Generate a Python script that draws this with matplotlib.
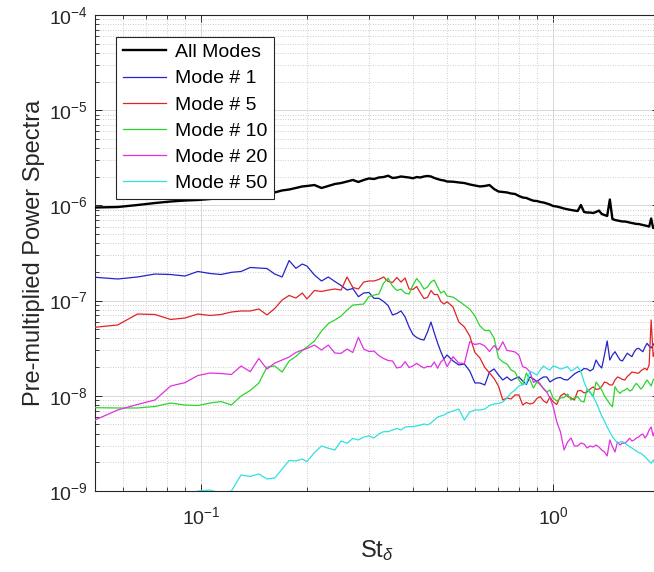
import numpy as np
import matplotlib
matplotlib.use("Agg")
import matplotlib.pyplot as plt
from matplotlib.ticker import LogLocator, NullFormatter, FixedLocator

# ---------------- data ----------------
# Strouhal number grid
st = [0.05, 0.058, 0.066, 0.074, 0.082, 0.09, 0.098, 0.106, 0.114, 0.122,
      0.13, 0.138, 0.146, 0.154, 0.162, 0.17, 0.178, 0.186, 0.194, 0.2,
      0.21, 0.22, 0.23, 0.24, 0.25, 0.26, 0.27, 0.28, 0.29, 0.30,
      0.31, 0.32, 0.33, 0.34, 0.35, 0.36, 0.37, 0.38, 0.39, 0.40,
      0.41, 0.42, 0.43, 0.44, 0.45, 0.46, 0.47, 0.48, 0.49, 0.50,
      0.52, 0.54, 0.56, 0.58, 0.60, 0.62, 0.64, 0.66, 0.68, 0.70,
      0.72, 0.74, 0.76, 0.78, 0.80, 0.82, 0.84, 0.86, 0.88, 0.90,
      0.92, 0.94, 0.96, 0.98, 1.00,
      1.025, 1.05, 1.075, 1.1, 1.125, 1.15, 1.175, 1.2, 1.225, 1.25,
      1.275, 1.3, 1.325, 1.35, 1.375, 1.4, 1.425, 1.45, 1.475, 1.5,
      1.525, 1.55, 1.575, 1.6, 1.625, 1.65, 1.675, 1.7, 1.725, 1.75,
      1.775, 1.8, 1.825, 1.85, 1.875, 1.9, 1.925, 1.95, 1.975, 2.0]

# log10 of the pre-multiplied power spectra
log_all = [-6.022, -6.017, -5.996, -5.975, -5.959, -5.949, -5.943, -5.933, -5.922, -5.917,
           -5.912, -5.901, -5.864, -5.875, -5.864, -5.843, -5.833, -5.817, -5.801, -5.796,
           -5.786, -5.817, -5.796, -5.775, -5.765, -5.749, -5.733, -5.754, -5.733, -5.717,
           -5.723, -5.707, -5.702, -5.688, -5.712, -5.707, -5.696, -5.702, -5.707, -5.715,
           -5.702, -5.707, -5.696, -5.691, -5.696, -5.712, -5.723, -5.733, -5.738, -5.749,
           -5.751, -5.759, -5.765, -5.780, -5.791, -5.801, -5.796, -5.786, -5.828, -5.854,
           -5.859, -5.864, -5.875, -5.880, -5.901, -5.917, -5.922, -5.938, -5.951, -5.954,
           -5.964, -5.970, -5.980, -5.991, -6.006,
           -6.012, -6.022, -6.033, -6.041, -6.048, -6.054, -6.059, -5.996, -6.069, -6.075,
           -6.075, -6.080, -6.069, -6.054, -6.090, -6.101, -6.111, -5.938, -6.143, -6.153,
           -6.159, -6.164, -6.169, -6.169, -6.174, -6.180, -6.185, -6.190, -6.195, -6.195,
           -6.201, -6.206, -6.211, -6.216, -6.222, -6.138, -6.237, -6.237, -6.243, -6.248]

log_m1 = [-6.755, -6.773, -6.752, -6.721, -6.726, -6.742, -6.694, -6.715, -6.726, -6.703,
          -6.694, -6.652, -6.658, -6.663, -6.721, -6.752, -6.579, -6.661, -6.616, -6.637,
          -6.731, -6.794, -6.752, -6.799, -6.841, -6.889, -6.873, -6.959, -6.920, -6.915,
          -6.976, -6.976, -7.009, -7.051, -7.151, -7.135, -7.109, -7.172, -7.277, -7.356,
          -7.388, -7.406, -7.414, -7.330, -7.225, -7.340, -7.445, -7.537, -7.613, -7.571,
          -7.634, -7.676, -7.666, -7.739, -7.865, -7.865, -7.886, -7.750, -7.718, -7.781,
          -7.834, -7.802, -7.839, -7.818, -7.802, -7.844, -7.881, -7.802, -7.823, -7.849,
          -7.823, -7.802, -7.802, -7.855, -7.834,
          -7.813, -7.808, -7.829, -7.834, -7.802, -7.771, -7.750, -7.739, -7.713, -7.718,
          -7.739, -7.718, -7.624, -7.676, -7.708, -7.571, -7.424, -7.624, -7.571, -7.537,
          -7.582, -7.624, -7.634, -7.592, -7.553, -7.571, -7.589, -7.540, -7.508, -7.501,
          -7.519, -7.537, -7.487, -7.449, -7.477, -7.498, -7.466, -7.435, -7.414, -7.393]

log_m5 = [-7.280, -7.256, -7.141, -7.146, -7.198, -7.183, -7.141, -7.156, -7.146, -7.120,
          -7.109, -7.109, -7.088, -7.151, -7.083, -6.994, -6.946, -6.973, -6.920, -6.983,
          -6.894, -6.904, -6.889, -6.878, -6.889, -6.752, -6.862, -6.878, -6.805, -6.794,
          -6.794, -6.778, -6.752, -6.799, -6.810, -6.757, -6.805, -6.763, -6.878, -6.883,
          -6.852, -6.920, -6.978, -6.967, -6.894, -6.936, -6.936, -7.009, -7.036, -7.012,
          -7.067, -7.225, -7.277, -7.372, -7.545, -7.603, -7.702, -7.760, -7.818, -7.897,
          -8.044, -8.023, -8.033, -7.991, -7.991, -8.096, -8.070, -8.086, -8.075, -8.028,
          -8.009, -8.054, -8.075, -8.012, -8.062,
          -8.091, -8.002, -7.975, -8.007, -8.023, -8.044, -7.949, -7.944, -7.970, -7.960,
          -7.928, -7.907, -7.933, -7.928, -7.902, -7.855, -7.865, -7.886, -7.886, -7.834,
          -7.802, -7.813, -7.829, -7.834, -7.797, -7.776, -7.750, -7.755, -7.760, -7.763,
          -7.739, -7.723, -7.711, -7.729, -7.676, -7.204, -7.587, -7.519, -7.540, -7.498]

log_m10 = [-8.125, -8.128, -8.128, -8.112, -8.076, -8.097, -8.102, -8.076, -8.060, -8.097,
           -8.002, -7.944, -7.866, -7.698, -7.687, -7.750, -7.635, -7.587, -7.524, -7.488,
           -7.425, -7.320, -7.241, -7.204, -7.162, -7.099, -7.047, -7.041, -7.036, -6.957,
           -6.942, -6.931, -6.819, -6.766, -6.847, -6.894, -6.879, -6.921, -6.931, -6.837,
           -6.768, -6.816, -6.879, -6.858, -6.805, -6.784, -6.858, -6.921, -6.900, -6.952,
           -6.963, -7.005, -7.047, -7.089, -7.162, -7.267, -7.314, -7.314, -7.393, -7.603,
           -7.645, -7.666, -7.729, -7.750, -7.834, -7.887, -7.761, -7.834, -7.918, -7.852,
           -7.887, -7.921, -7.960, -7.939, -8.023,
           -8.055, -8.023, -8.018, -7.981, -8.044, -8.023, -8.009, -8.055, -8.065, -7.929,
           -7.960, -8.009, -7.855, -7.897, -7.939, -8.002, -8.044, -8.086, -8.114, -7.904,
           -7.950, -7.974, -7.950, -7.939, -7.921, -7.950, -7.939, -7.897, -7.869, -7.897,
           -7.929, -7.908, -7.866, -7.834, -7.866, -7.897, -7.834, -7.813, -7.845, -7.824]

log_m20 = [-8.254, -8.149, -8.091, -8.044, -7.897, -7.862, -7.787, -7.761, -7.766, -7.776,
           -7.687, -7.747, -7.608, -7.719, -7.656, -7.624, -7.593, -7.545, -7.519, -7.503,
           -7.467, -7.519, -7.467, -7.551, -7.554, -7.509, -7.545, -7.386, -7.509, -7.535,
           -7.530, -7.577, -7.608, -7.629, -7.635, -7.708, -7.698, -7.642, -7.703, -7.687,
           -7.659, -7.687, -7.708, -7.692, -7.694, -7.645, -7.711, -7.645, -7.614, -7.694,
           -7.589, -7.656, -7.661, -7.432, -7.461, -7.451, -7.477, -7.535, -7.472, -7.519,
           -7.432, -7.524, -7.530, -7.540, -7.572, -7.694, -7.708, -7.750, -7.860, -7.839,
           -7.876, -7.929, -7.960, -8.023, -8.107,
           -8.275, -8.380, -8.569, -8.485, -8.443, -8.527, -8.527, -8.496, -8.506, -8.548,
           -8.527, -8.538, -8.517, -8.538, -8.569, -8.590, -8.632, -8.464, -8.534, -8.590,
           -8.485, -8.517, -8.496, -8.499, -8.475, -8.446, -8.475, -8.464, -8.443, -8.433,
           -8.412, -8.401, -8.443, -8.412, -8.359, -8.328, -8.422, -8.359, -8.338, -8.359]

log_m50 = [-9.40, -9.35, -9.30, -9.25, -9.15, -9.08, -9.00, -8.99, -9.02, -9.00,
           -8.832, -8.847, -8.821, -8.874, -8.863, -8.769, -8.679, -8.685, -8.664, -8.692,
           -8.596, -8.527, -8.551, -8.569, -8.475, -8.499, -8.448, -8.464, -8.433, -8.422,
           -8.443, -8.401, -8.377, -8.377, -8.359, -8.343, -8.359, -8.328, -8.324, -8.324,
           -8.317, -8.307, -8.296, -8.307, -8.286, -8.254, -8.223, -8.212, -8.202, -8.181,
           -8.160, -8.139, -8.254, -8.170, -8.149, -8.149, -8.139, -8.102, -8.086, -8.081,
           -8.065, -8.023, -7.971, -7.939, -7.897, -7.881, -7.871, -7.740, -7.761, -7.782,
           -7.729, -7.687, -7.713, -7.729, -7.687,
           -7.698, -7.719, -7.708, -7.694, -7.740, -7.719, -7.694, -7.747, -7.855, -7.929,
           -7.971, -8.009, -8.065, -8.139, -8.212, -8.265, -8.328, -8.380, -8.429, -8.464,
           -8.499, -8.485, -8.482, -8.496, -8.517, -8.534, -8.548, -8.564, -8.580, -8.596,
           -8.604, -8.622, -8.639, -8.664, -8.685, -8.709, -8.674, -8.706, -8.727, -8.737]

labels = ["All Modes", "Mode # 1", "Mode # 5", "Mode # 10", "Mode # 20", "Mode # 50"]
xticks = [0.1, 1.0]
yticks = [1e-9, 1e-8, 1e-7, 1e-6, 1e-5, 1e-4]

# ---------------- style ----------------
plt.rcParams['font.family'] = ['Liberation Sans', 'DejaVu Sans']
plt.rcParams['mathtext.fontset'] = 'custom'
plt.rcParams['mathtext.rm'] = 'Liberation Sans'
plt.rcParams['mathtext.it'] = 'Liberation Sans:italic'
plt.rcParams['axes.unicode_minus'] = False

fig = plt.figure(figsize=(6.54, 5.72), dpi=100)
ax = fig.add_axes([95/654, 81/572, 564/654, 476/572])

series = [log_all, log_m1, log_m5, log_m10, log_m20, log_m50]
colors = ['#000000', '#2424c8', '#e02424', '#2cd42c', '#e030e0', '#30e0e0']
widths = [1.7, 0.9, 0.9, 0.9, 0.9, 0.9]

x = np.array(st)
for s, c, w, lab in zip(series, colors, widths, labels):
    ax.plot(x, 10.0 ** np.array(s), color=c, lw=w, label=lab, zorder=3)

ax.set_xscale('log')
ax.set_yscale('log')
ax.set_xlim(0.05, 2.0)
ax.set_ylim(1e-9, 1e-4)

ax.xaxis.set_major_locator(FixedLocator(xticks))
ax.xaxis.set_minor_locator(LogLocator(base=10, subs=np.arange(2, 10), numticks=20))
ax.yaxis.set_major_locator(FixedLocator(yticks))
ax.yaxis.set_minor_locator(LogLocator(base=10, subs=np.arange(2, 10), numticks=20))
ax.xaxis.set_minor_formatter(NullFormatter())
ax.yaxis.set_minor_formatter(NullFormatter())
ax.set_xticklabels([r'$\mathregular{10^{-1}}$', r'$\mathregular{10^{0}}$'])
ax.set_yticklabels([r'$\mathregular{10^{%d}}$' % e for e in range(-9, -3)])

ax.grid(True, which='major', color='#d8d8d8', lw=0.7, ls='-', zorder=0)
ax.grid(True, which='minor', color='#bdbdbd', lw=0.6, ls=(0, (1, 2)), zorder=0)
ax.set_axisbelow(True)

ax.tick_params(which='both', direction='in', top=True, right=True,
               colors='#262626', labelcolor='#262626')
ax.tick_params(which='major', length=5, width=0.7, labelsize=14, pad=5)
ax.tick_params(which='minor', length=3, width=0.6)
ax.tick_params(axis='x', which='major', pad=11)
for sp in ax.spines.values():
    sp.set_color('#262626')
    sp.set_linewidth(0.8)

ax.set_xlabel(r'St$_{\delta}$', fontsize=17, color='#262626', labelpad=7)
ax.set_ylabel('Pre-multiplied Power Spectra', fontsize=17, color='#262626', labelpad=3)

leg = ax.legend(loc='upper left', bbox_to_anchor=(21/564, 1 - 22/476),
                borderaxespad=0, fontsize=14, handlelength=2.25,
                handletextpad=0.45, labelspacing=0.44, borderpad=0.34,
                fancybox=False, framealpha=1, edgecolor='#262626')
leg.get_frame().set_linewidth(0.8)

fig.savefig('out.png', dpi=100)
